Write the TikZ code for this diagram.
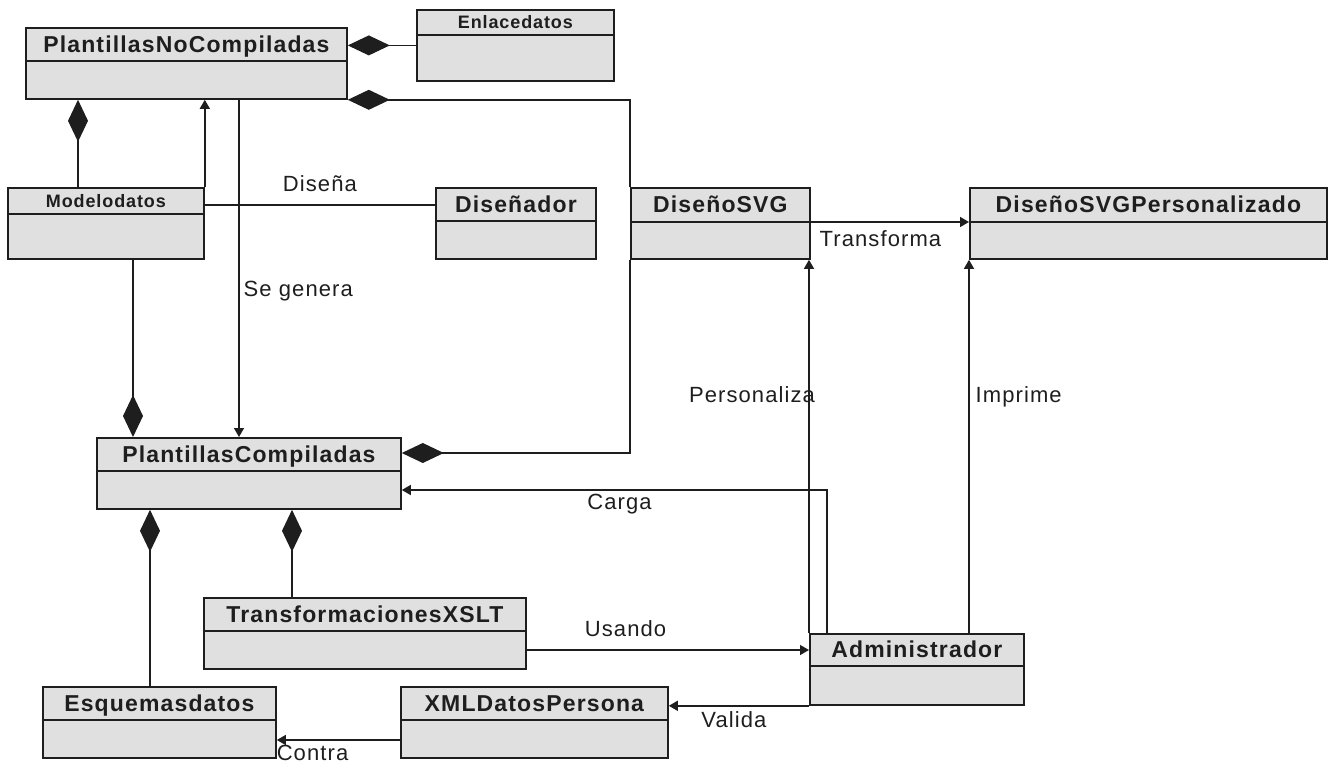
\documentclass[tikz,border=0pt]{standalone}
\usepackage{fontspec}
\setmainfont{Liberation Sans}[LetterSpace=5]
\usetikzlibrary{arrows.meta,calc,positioning}

\definecolor{umlgray}{RGB}{224,224,224}
\definecolor{umlink}{RGB}{30,30,30}

\tikzset{
  umlline/.style={draw=umlink, line width=1.4pt},
  umlbox/.style={draw=umlink, fill=umlgray, line width=1.8pt, anchor=north west,
    minimum height=71pt, inner sep=0pt},
  classname/.style={font=\fontsize{23}{27}\selectfont\bfseries, text=umlink,
    inner sep=0pt, text height=16pt, text depth=0pt},
  smallname/.style={classname, font=\fontsize{18}{21}\selectfont\bfseries, text height=13pt},
  lbl/.style={font=\fontsize{22}{26}\selectfont, text=umlink, inner sep=0pt,
    text height=16pt, text depth=0pt},
  compo/.style={umlline, -{Diamond[length=42pt,width=20pt]}},
  assoc/.style={umlline, -{Triangle[length=9pt,width=10pt]}}
}

\newcommand{\umlclass}[6][classname]{%
  \node[umlbox, minimum width=#4pt] (#2) at (#3) {};
  \draw[umlline, line width=1.8pt] ($(#2.north west)+(0,#5)$) -- ($(#2.north east)+(0,#5)$);
  \node[#1] (#2-name) at ($(#2.north)+(0,#5/2)$) {#6};
}

\begin{document}
\begin{tikzpicture}[x=1pt, y=-1pt]
    \useasboundingbox (0,0) rectangle (1334,764);

    \umlclass{pnc}{25,27}{321}{34}{PlantillasNoCompiladas}
    \umlclass[smallname]{enl}{416,9}{197}{26}{Enlacedatos}
    \umlclass[smallname]{md}{7,187}{196}{27}{Modelodatos}
    \umlclass{dis}{435,187}{160}{34}{Diseñador}
    \umlclass{dsvg}{630,187}{179}{35}{DiseñoSVG}
    \umlclass{dsp}{969,187}{357}{35}{DiseñoSVGPersonalizado}
    \umlclass{pc}{96,437}{304}{34}{PlantillasCompiladas}
    \umlclass{tx}{203,597}{322}{34}{TransformacionesXSLT}
    \umlclass{adm}{809,633}{214}{33}{Administrador}
    \umlclass{esq}{42,686}{233}{34}{Esquemasdatos}
    \umlclass{xml}{400,686}{267}{34}{XMLDatosPersona}

    % composiciones
    \coordinate (mdtop) at ($(md.north west)+(71,0)$);
    \coordinate (mdbot) at ($(md.south west)+(126,0)$);
    \coordinate (pcright) at ($(pc.north east)+(0,16)$);
    \coordinate (esqtop) at ($(esq.north west)+(108,0)$);
    \coordinate (txtop) at ($(tx.north west)+(89,0)$);
    \draw[compo] (enl.west) -- (enl.west -| pnc.east);
    \draw[compo] (dsvg.north west) |- (pnc.south east);
    \draw[compo] (mdtop) -- (mdtop |- pnc.south);
    \draw[compo] (mdbot) -- (mdbot |- pc.north);
    \draw[compo] (dsvg.south west) |- (pcright);
    \draw[compo] (esqtop) -- (esqtop |- pc.south);
    \draw[compo] (txtop) -- (txtop |- pc.south);

    % asociaciones
    \coordinate (segen) at ($(pnc.south west)+(214,0)$);
    \coordinate (disena) at ($(md.north east)+(0,18)$);
    \coordinate (trf) at ($(dsvg.north east)+(0,35)$);
    \coordinate (usa) at ($(tx.north east)+(0,53)$);
    \coordinate (cargaup) at ($(adm.north west)+(18,0)$);
    \coordinate (cargaend) at ($(pc.north east)+(0,53)$);
    \coordinate (contra) at ($(xml.north west)+(0,54)$);
    \draw[assoc] (md.north east) -- (md.north east |- pnc.south);
    \draw[assoc] (segen) -- (segen |- pc.north)
      node[lbl, right=4pt, pos=0.56] (lsegen) {Se genera};
    \draw[umlline] (disena) -- (disena -| dis.west)
      node[lbl, above=13pt, midway] (ldisena) {Diseña};
    \draw[assoc] (trf) -- (trf -| dsp.west)
      node[lbl, below=8pt, pos=0.44] (ltrf) {Transforma};
    \draw[assoc] (usa) -- (usa -| adm.west)
      node[lbl, above=13pt, pos=0.35] (lusa) {Usando};
    \draw[assoc] (adm.north west) -- (adm.north west |- dsvg.south)
      node[lbl, pos=0.64, xshift=-57pt] (lpers) {Personaliza};
    \draw[assoc] (cargaup) |- (cargaend)
      node[lbl, below=3pt, pos=0.744] (lcarga) {Carga};
    \draw[assoc] (adm.north -| dsp.south west) -- (dsp.south west)
      node[lbl, right=6pt, pos=0.64] (limp) {Imprime};
    \draw[assoc] (adm.south west) -- (adm.south west -| xml.east)
      node[lbl, below=5pt, pos=0.535] (lval) {Valida};
    \draw[assoc] (contra) -- (contra -| esq.east)
      node[lbl, below=4pt, pos=0.71] (lcontra) {Contra};
\end{tikzpicture}
\end{document}
